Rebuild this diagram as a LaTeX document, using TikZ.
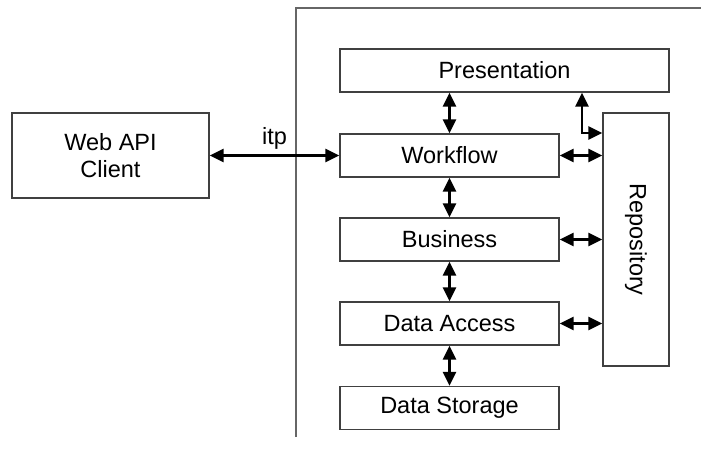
\documentclass[tikz,border=0pt]{standalone}
\usepackage{fontspec}
\setmainfont{Liberation Sans}
\usetikzlibrary{arrows.meta}
\begin{document}
\begin{tikzpicture}[x=1pt,y=-1pt,
  txt/.style={font=\fontsize{23.5}{27}\selectfont},
  layer/.style={draw=black!75, line width=1.3pt, fill=white, inner sep=0pt,
    txt, align=center},
  tip/.tip={Triangle[length=14pt 0 0,width=13pt 0 0]},
  link/.style={line width=2.4pt, tip-tip},
  frame/.style={draw=black!60, line width=1.5pt}]
\useasboundingbox (0,0) rectangle (701,465);

% system boundary
\draw[frame] (296,437) -- (296,8) -- (701,8);

% layers
\node[layer, minimum width=197pt, minimum height=85pt] (client) at (110.5,155.5) {Web API\\Client};
\node[layer, minimum width=329pt, minimum height=43pt] (pres) at (504.5,70.5) {Presentation};
\node[layer, minimum width=219pt, minimum height=43pt] (work) at (449.5,155.5) {Workflow};
\node[layer, minimum width=219pt, minimum height=43pt] (bus) at (449.5,239.5) {Business};
\node[layer, minimum width=219pt, minimum height=43pt] (dac) at (449.5,323.5) {Data Access};
\node[layer, minimum width=219pt, minimum height=43pt] (dst) at (449.5,408) {Data Storage};
\node[layer, minimum width=66pt, minimum height=253pt] (repo) at (636,239.5) {};
\node[txt, rotate=-90] (repolabel) at (repo.center) {Repository};

% client link
\draw[link] (client.east) -- (work.west) node[midway, above=2pt, txt] (itp) {itp};

% vertical links between layers
\draw[link] (pres.south -| work.north) -- (work.north);
\draw[link] (work.south) -- (bus.north);
\draw[link] (bus.south) -- (dac.north);
\draw[link] (dac.south) -- (dst.north);

% repository links
\coordinate (bend) at (582,133);
\draw[link] (pres.south -| bend) -- (bend) -- (bend -| repo.west);
\draw[link] (work.east) -- (work.east -| repo.west);
\draw[link] (bus.east) -- (bus.east -| repo.west);
\draw[link] (dac.east) -- (dac.east -| repo.west);
\end{tikzpicture}
\end{document}
